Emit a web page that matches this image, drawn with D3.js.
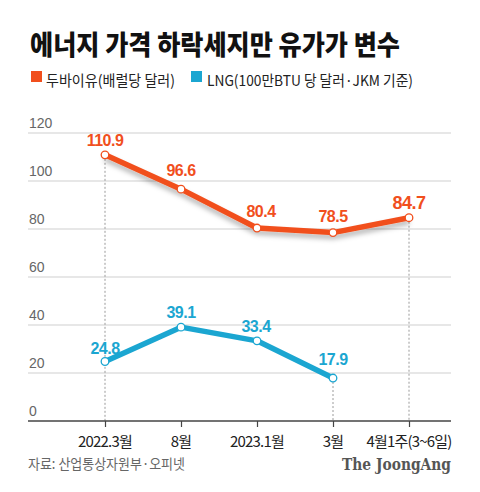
<!DOCTYPE html>
<html><head><meta charset="utf-8">
<script src="https://cdn.jsdelivr.net/npm/d3@7"></script>
<style>
html,body{margin:0;padding:0;background:#fff;}
svg{display:block;}
</style></head>
<body>
<svg id="c" width="480" height="492"></svg>
<script>
const categories = ["2022.3월","8월","2023.1월","3월","4월 1주(3~6일)"];
const dubai = [110.9, 96.6, 80.4, 78.5, 84.7];
const lng = [24.8, 39.1, 33.4, 17.9, null];
const yTicks = [0,20,40,60,80,100,120];
const title = "에너지 가격 하락세지만 유가가 변수";
const legend1 = "두바이유(배럴당 달러)";
const legend2 = "LNG(100만BTU 당 달러·JKM 기준)";
const source = "자료: 산업통상자원부·오피넷";

const ORANGE = "#f14f1d", BLUE = "#1ba6d1";
const svg = d3.select("#c");
const defs = svg.append("defs");
const f = defs.append("filter").attr("id","sh").attr("x","-10%").attr("y","-30%").attr("width","120%").attr("height","180%");
f.append("feDropShadow").attr("dx",0).attr("dy",4).attr("stdDeviation",2.5).attr("flood-color","#000").attr("flood-opacity",0.28);

const gridL = 28, gridR = 451;
const x = d3.scalePoint().domain(categories).range([105,409]);
const y = d3.scaleLinear().domain([0,120]).range([421,133]);

svg.append("rect").attr("width",480).attr("height",492).attr("fill","#fff");

// title
svg.append("text").attr("x",30).attr("y",55).text(title)
  .attr("font-family","'Noto Sans CJK KR'").attr("font-weight",900).attr("font-size",27)
  .attr("fill","#111").attr("textLength",370).attr("lengthAdjust","spacingAndGlyphs");

// legend
svg.append("rect").attr("x",31).attr("y",71).attr("width",11).attr("height",11).attr("fill",ORANGE);
svg.append("text").attr("x",46).attr("y",86).text(legend1)
  .attr("font-family","'Noto Sans CJK KR'").attr("font-size",15).attr("fill","#222")
  .attr("textLength",129).attr("lengthAdjust","spacingAndGlyphs");
svg.append("rect").attr("x",191).attr("y",71).attr("width",11).attr("height",11).attr("fill",BLUE);
svg.append("text").attr("x",207).attr("y",86).text(legend2)
  .attr("font-family","'Noto Sans CJK KR'").attr("font-size",15).attr("fill","#222")
  .attr("textLength",206).attr("lengthAdjust","spacingAndGlyphs");

// grid
const g = svg.append("g");
g.selectAll("line.grid").data(yTicks.filter(d=>d>0)).join("line")
  .attr("x1",gridL).attr("x2",gridR).attr("y1",d=>y(d)).attr("y2",d=>y(d))
  .attr("stroke","#cfcfcf").attr("stroke-width",1);
g.selectAll("text.yt").data(yTicks).join("text")
  .attr("x",29).attr("y",d=>y(d)-5).text(d=>d)
  .attr("font-family","'Liberation Sans', Arial").attr("font-size",14).attr("fill","#666");

// dashed guides
const guides = [
  {c:categories[0], v:dubai[0]},
  {c:categories[3], v:lng[3]},
  {c:categories[4], v:dubai[4]}
];
g.selectAll("line.guide").data(guides).join("line")
  .attr("x1",d=>x(d.c)).attr("x2",d=>x(d.c)).attr("y1",d=>y(d.v)).attr("y2",y(0))
  .attr("stroke","#9a9a9a").attr("stroke-width",1).attr("stroke-dasharray","2,2");

// x axis
const ax = svg.append("g").attr("transform",`translate(0,${y(0)})`)
  .call(d3.axisBottom(x).tickSize(6).tickSizeOuter(0).tickFormat(()=>""));
ax.select(".domain").remove();
ax.selectAll(".tick line").attr("stroke","#444").attr("stroke-width",1.2);
svg.append("line").attr("x1",gridL).attr("x2",gridR).attr("y1",y(0)).attr("y2",y(0))
  .attr("stroke","#444").attr("stroke-width",1.5);
svg.selectAll("text.xl").data(categories).join("text")
  .attr("x",d=>x(d)).attr("y",447).attr("text-anchor","middle")
  .text(d=>d.replace("4월 1주","4월1주"))
  .attr("font-family","'Noto Sans CJK KR'").attr("font-size",15).attr("fill","#222")
  .attr("letter-spacing",-0.8);

// lines
const line = d3.line().defined(d=>d.v!=null).x(d=>x(d.c)).y(d=>y(d.v)).curve(d3.curveLinear);
const dd = categories.map((c,i)=>({c, v:dubai[i]}));
const ld = categories.map((c,i)=>({c, v:lng[i]})).filter(d=>d.v!=null);
svg.append("path").datum(dd).attr("d",line).attr("fill","none").attr("stroke",ORANGE)
  .attr("stroke-width",5.5).attr("stroke-linejoin","round").attr("filter","url(#sh)");
svg.append("path").datum(ld).attr("d",line).attr("fill","none").attr("stroke",BLUE)
  .attr("stroke-width",5.5).attr("stroke-linejoin","round");

svg.selectAll("circle.o").data(dd).join("circle")
  .attr("cx",d=>x(d.c)).attr("cy",d=>y(d.v)).attr("r",3.8)
  .attr("fill","#fff").attr("stroke",ORANGE).attr("stroke-width",1.3);
svg.selectAll("circle.b").data(ld).join("circle")
  .attr("cx",d=>x(d.c)).attr("cy",d=>y(d.v)).attr("r",3.8)
  .attr("fill","#fff").attr("stroke",BLUE).attr("stroke-width",1.3);

// value labels
const oOff = [ {dx:0,dy:-9}, {dx:0,dy:-13}, {dx:4,dy:-11}, {dx:0,dy:-11}, {dx:0,dy:-9} ];
svg.selectAll("text.ov").data(dd).join("text")
  .attr("x",(d,i)=>x(d.c)+oOff[i].dx).attr("y",(d,i)=>y(d.v)+oOff[i].dy)
  .attr("text-anchor","middle").text(d=>d.v.toFixed(1))
  .attr("font-family","'Liberation Sans', Arial").attr("font-weight",700)
  .attr("font-size",(d,i)=>i===4?18:16).attr("fill",ORANGE).attr("letter-spacing",-0.5);
const bOff = [ {dx:0,dy:-7}, {dx:0,dy:-9}, {dx:-1,dy:-9}, {dx:0,dy:-13} ];
svg.selectAll("text.bv").data(ld).join("text")
  .attr("x",(d,i)=>x(d.c)+bOff[i].dx).attr("y",(d,i)=>y(d.v)+bOff[i].dy)
  .attr("text-anchor","middle").text(d=>d.v.toFixed(1))
  .attr("font-family","'Liberation Sans', Arial").attr("font-weight",700)
  .attr("font-size",16).attr("fill",BLUE).attr("letter-spacing",-0.5);

// footer
svg.append("text").attr("x",28).attr("y",469).text(source)
  .attr("font-family","'Noto Sans CJK KR'").attr("font-size",14).attr("fill","#666")
  .attr("textLength",157).attr("lengthAdjust","spacingAndGlyphs");
svg.append("text").attr("x",451).attr("y",470).attr("text-anchor","end").text("The JoongAng")
  .attr("font-family","'DejaVu Serif', 'Liberation Serif'").attr("font-weight",700).attr("font-size",17)
  .attr("fill","#555").attr("textLength",109).attr("lengthAdjust","spacingAndGlyphs");
</script>
</body></html>
